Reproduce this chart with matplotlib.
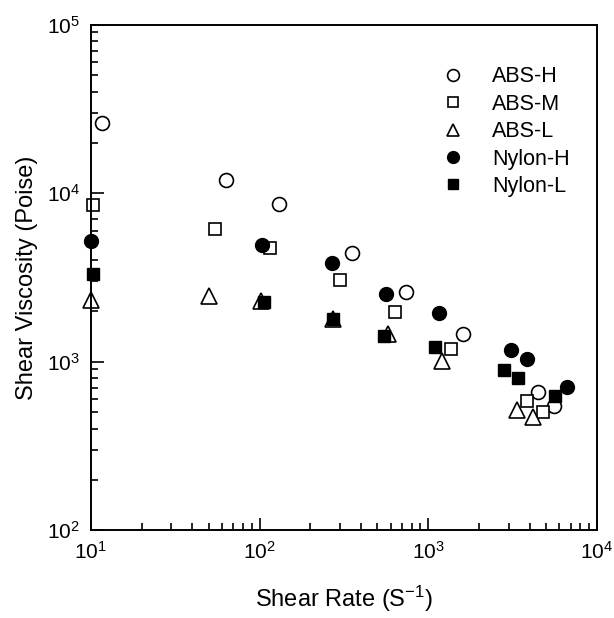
import matplotlib
matplotlib.use("Agg")
import matplotlib.pyplot as plt

plt.rcParams['font.family'] = ['Liberation Sans', 'DejaVu Sans']
plt.rcParams['mathtext.fontset'] = 'custom'
plt.rcParams['mathtext.rm'] = 'Liberation Sans'
plt.rcParams['mathtext.it'] = 'Liberation Sans'

# data (shear rate in 1/s, viscosity in poise)
abs_h_x = [11.7, 63, 130, 353, 738, 1600, 4510, 5560]
abs_h_y = [26000, 12000, 8650, 4390, 2590, 1466, 664, 545]

abs_m_x = [10.3, 54.6, 115, 302, 636, 1368, 3840, 4810]
abs_m_y = [8550, 6140, 4750, 3060, 1964, 1197, 584, 502]

abs_l_x = [10, 50.4, 102, 272, 574, 1216, 3357, 4205]
abs_l_y = [2335, 2470, 2280, 1786, 1466, 1007, 517, 469]

nylon_h_x = [10, 103, 269, 560, 1164, 3084, 3840, 6700]
nylon_h_y = [5220, 4930, 3870, 2530, 1944, 1169, 1035, 711]

nylon_l_x = [10.3, 106, 272, 545, 1104, 2812, 3394, 5650]
nylon_l_y = [3300, 2270, 1800, 1412, 1217, 891, 805, 622]

fig = plt.figure(figsize=(6.14, 6.18), dpi=100)
ax = fig.add_axes([0.148, 0.142, 0.824, 0.818])

ax.plot(abs_h_x, abs_h_y, 'o', mfc='white', mec='black', mew=1.2, ms=10, label='ABS-H', clip_on=False)
ax.plot(abs_m_x, abs_m_y, 's', mfc='white', mec='black', mew=1.2, ms=8.5, label='ABS-M', clip_on=False)
ax.plot(abs_l_x, abs_l_y, '^', mfc='white', mec='black', mew=1.2, ms=11, label='ABS-L', clip_on=False)
ax.plot(nylon_h_x, nylon_h_y, 'o', color='black', ms=10, label='Nylon-H', clip_on=False)
ax.plot(nylon_l_x, nylon_l_y, 's', color='black', ms=8.5, label='Nylon-L', clip_on=False)

ax.set_xscale('log')
ax.set_yscale('log')
ax.set_xlim(10, 1e4)
ax.set_ylim(1e2, 1e5)

ax.tick_params(which='both', direction='in', top=False, right=False, labelsize=15, width=1.2)
ax.tick_params(which='major', length=9, pad=8)
ax.tick_params(which='minor', length=5)
for s in ax.spines.values():
    s.set_linewidth(1.4)

ax.set_xlabel('Shear Rate (S$^{-1}$)', fontsize=17, labelpad=15)
ax.set_ylabel('Shear Viscosity (Poise)', fontsize=17, labelpad=6)

ax.legend(loc='upper left', frameon=False, fontsize=15.5, markerscale=0.85,
          handlelength=1.0, handletextpad=1.3, labelspacing=0.3,
          borderpad=0, borderaxespad=0, bbox_to_anchor=(0.695, 0.918))

fig.savefig('out.png', dpi=100)
